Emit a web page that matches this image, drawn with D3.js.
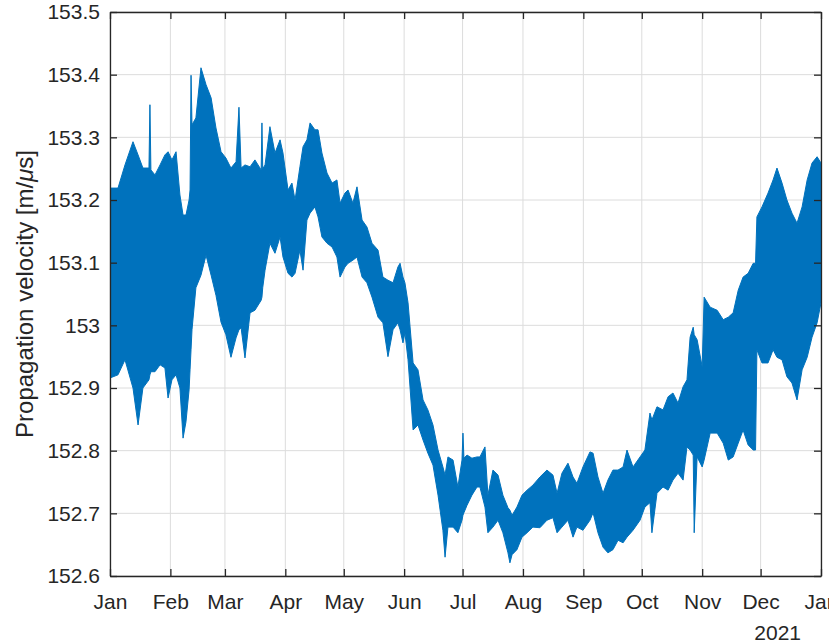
<!DOCTYPE html>
<html>
<head>
<meta charset="utf-8">
<script src="https://cdn.jsdelivr.net/npm/d3@7"></script>
<style>
  html, body { margin: 0; padding: 0; background: #fff; }
  svg { display: block; }
  text { font-family: "Liberation Sans", Arial, Helvetica, sans-serif; fill: #262626; }
</style>
</head>
<body>
<svg id="chart" width="829" height="643"></svg>
<script>
// ---- data ----
// days since 2021-01-01, upper and lower envelope of the dense measurement trace
const dayOffset = [0,4.1,7.7,11.8,14.4,16.9,20.0,20.5,21.0,23.1,25.7,28.2,29.8,31.8,33.9,35.9,37.5,39.0,40.6,41.1,41.6,42.1,44.1,46.7,49.3,51.9,54.4,57.0,59.5,62.1,64.7,66.2,67.3,69.3,71.9,74.4,77.6,78.0,78.4,79.6,82.1,84.7,87.3,88.8,91.4,93.4,95.0,97.5,99.1,101.1,102.7,105.2,106.8,108.8,111.4,114.0,116.5,118.1,120.6,122.2,124.7,126.8,129.4,131.9,134.5,137.6,140.1,142.7,145.3,147.8,148.9,150.4,151.4,153.0,155.6,158.1,160.7,163.2,165.8,168.4,170.9,172.0,173.5,176.1,178.6,180.7,181.2,181.7,183.3,185.8,188.4,189.9,192.5,194.0,196.6,199.2,201.7,204.3,205.3,206.4,208.9,211.5,214.1,217.1,220.7,224.3,227.4,229.5,232.0,235.1,237.7,239.7,242.8,246.4,248.0,250.5,253.1,255.6,258.2,260.8,263.4,265.4,268.5,272.1,274.6,277.2,278.2,280.8,283.9,286.5,289.0,291.6,294.2,296.2,297.8,299.4,299.9,301.4,304.0,305.0,308.1,311.7,314.8,317.4,319.9,322.5,325.0,327.6,330.2,331.4,332.1,334.7,337.8,340.4,342.4,345.0,347.5,350.1,352.7,355.3,357.9,360.4,363.0,365.0];
const upperVelocity = [153.219,153.219,153.256,153.293,153.272,153.251,153.251,153.352,153.248,153.240,153.256,153.272,153.277,153.264,153.277,153.208,153.176,153.176,153.200,153.216,153.399,153.320,153.331,153.411,153.384,153.363,153.315,153.277,153.267,153.251,153.261,153.348,153.251,153.256,153.253,153.264,153.248,153.323,153.250,153.256,153.317,153.275,153.296,153.275,153.216,153.227,153.200,153.253,153.285,153.296,153.323,153.312,153.312,153.275,153.243,153.227,153.232,153.195,153.211,153.216,153.195,153.221,153.168,153.157,153.131,153.120,153.077,153.072,153.068,153.093,153.099,153.077,153.068,153.036,152.940,152.929,152.881,152.865,152.841,152.801,152.774,152.761,152.790,152.785,152.742,152.785,152.828,152.788,152.793,152.788,152.790,152.790,152.806,152.729,152.769,152.761,152.729,152.709,152.705,152.697,152.710,152.729,152.737,152.745,152.758,152.769,152.761,152.732,152.764,152.780,152.758,152.748,152.774,152.798,152.796,152.758,152.732,152.753,152.769,152.769,152.774,152.801,152.774,152.790,152.801,152.860,152.849,152.870,152.865,152.886,152.892,152.876,152.902,152.913,152.981,152.997,152.985,152.977,152.934,153.045,153.029,153.024,153.009,153.013,153.020,153.056,153.077,153.083,153.099,153.099,153.173,153.189,153.211,153.232,153.251,153.227,153.200,153.179,153.163,153.189,153.232,153.259,153.269,153.259];
const lowerVelocity = [152.916,152.921,152.945,152.900,152.841,152.900,152.913,152.921,152.926,152.926,152.937,152.932,152.884,152.913,152.921,152.900,152.820,152.846,152.897,152.929,152.961,152.993,153.060,153.080,153.112,153.080,153.048,153.005,152.985,152.949,152.980,152.993,152.996,152.948,153.020,153.024,153.040,153.045,153.060,153.088,153.131,153.115,153.141,153.109,153.083,153.077,153.083,153.120,153.088,153.168,153.179,153.189,153.173,153.141,153.131,153.125,153.109,153.077,153.093,153.099,153.104,153.109,153.077,153.068,153.045,153.013,153.004,152.950,152.993,153.004,152.993,152.972,152.988,152.945,152.833,152.841,152.817,152.796,152.777,152.729,152.673,152.630,152.678,152.678,152.669,152.689,152.697,152.701,152.713,152.729,152.742,152.742,152.710,152.669,152.678,152.689,152.669,152.637,152.621,152.634,152.642,152.662,152.669,152.678,152.677,152.689,152.693,152.669,152.678,152.689,152.662,152.678,152.673,152.689,152.701,152.669,152.646,152.637,152.642,152.657,152.653,152.662,152.673,152.689,152.710,152.717,152.669,152.732,152.742,152.737,152.753,152.764,152.753,152.806,152.801,152.793,152.669,152.790,152.774,152.785,152.828,152.828,152.812,152.785,152.790,152.812,152.833,152.809,152.801,152.801,152.961,152.940,152.940,152.961,152.949,152.945,152.918,152.908,152.881,152.929,152.949,152.981,153.004,153.036];
const monthLabels = ["Jan","Feb","Mar","Apr","May","Jun","Jul","Aug","Sep","Oct","Nov","Dec","Jan"];
const yTicks = [152.6,152.7,152.8,152.9,153.0,153.1,153.2,153.3,153.4,153.5];
const yearLabel = "2021";
const yLabel = "Propagation velocity [m/";
const yLabelMu = "\u03bc";
const yLabelEnd = "s]";

// ---- layout ----
const L = 110, R = 821, T = 12, B = 576;
const startMs = Date.UTC(2021, 0, 1), dayMs = 864e5;
const x = d3.scaleUtc().domain([new Date(startMs), new Date(Date.UTC(2022, 0, 1))]).range([L, R]);
const y = d3.scaleLinear().domain([152.6, 153.5]).range([B, T]);
const monthTicks = d3.range(13).map(i => new Date(Date.UTC(2021, i, 1)));

const svg = d3.select("#chart");
const axisColor = "#262626", gridColor = "#dcdcdc", lineColor = "#0072BD";

// grid
const g = svg.append("g");
g.selectAll("line.vg").data(monthTicks).join("line")
  .attr("x1", d => x(d)).attr("x2", d => x(d)).attr("y1", T).attr("y2", B)
  .attr("stroke", gridColor).attr("stroke-width", 1);
g.selectAll("line.hg").data(yTicks).join("line")
  .attr("y1", d => y(d)).attr("y2", d => y(d)).attr("x1", L).attr("x2", R)
  .attr("stroke", gridColor).attr("stroke-width", 1);

// data
svg.append("clipPath").attr("id", "clip").append("rect")
  .attr("x", L).attr("y", T).attr("width", R - L).attr("height", B - T);
const series = dayOffset.map((d, i) => ({ t: new Date(startMs + d * dayMs), hi: upperVelocity[i], lo: lowerVelocity[i] }));
const area = d3.area().x(d => x(d.t)).y0(d => y(d.lo)).y1(d => y(d.hi));
svg.append("path").datum(series).attr("clip-path", "url(#clip)")
  .attr("d", area).attr("fill", lineColor).attr("stroke", lineColor).attr("stroke-width", 1).attr("stroke-linejoin", "miter");

// axes (MATLAB-style box with inward ticks)
const tl = 7;
const xB = d3.axisBottom(x).tickValues(monthTicks).tickFormat((d, i) => monthLabels[i]).tickSizeInner(-tl).tickSizeOuter(0).tickPadding(18);
const xT = d3.axisTop(x).tickValues(monthTicks).tickFormat("").tickSizeInner(-tl).tickSizeOuter(0);
const yL = d3.axisLeft(y).tickValues(yTicks).tickFormat(d => String(+d.toFixed(1))).tickSizeInner(-tl).tickSizeOuter(0).tickPadding(10);
const yR = d3.axisRight(y).tickValues(yTicks).tickFormat("").tickSizeInner(-tl).tickSizeOuter(0);

function style(sel) {
  sel.select(".domain").attr("stroke", axisColor).attr("stroke-width", 1.3);
  sel.selectAll(".tick line").attr("stroke", axisColor).attr("stroke-width", 1.3);
  sel.selectAll(".tick text").attr("fill", axisColor).style("font-size", "21px")
     .style("font-family", '"Liberation Sans", Arial, sans-serif');
}
svg.append("g").attr("transform", `translate(0,${B})`).call(xB).call(style);
svg.append("g").attr("transform", `translate(0,${T})`).call(xT).call(style);
svg.append("g").attr("transform", `translate(${L},0)`).call(yL).call(style);
svg.append("g").attr("transform", `translate(${R},0)`).call(yR).call(style);

// year label
svg.append("text").attr("x", 801).attr("y", 640).attr("text-anchor", "end")
  .style("font-size", "21px").text(yearLabel);

// y axis label
const yl = svg.append("text").attr("transform", `translate(33,294) rotate(-90)`)
  .attr("text-anchor", "middle").style("font-size", "24px");
yl.append("tspan").text(yLabel);
yl.append("tspan").style("font-style", "italic").text(yLabelMu);
yl.append("tspan").text(yLabelEnd);
</script>
</body>
</html>
